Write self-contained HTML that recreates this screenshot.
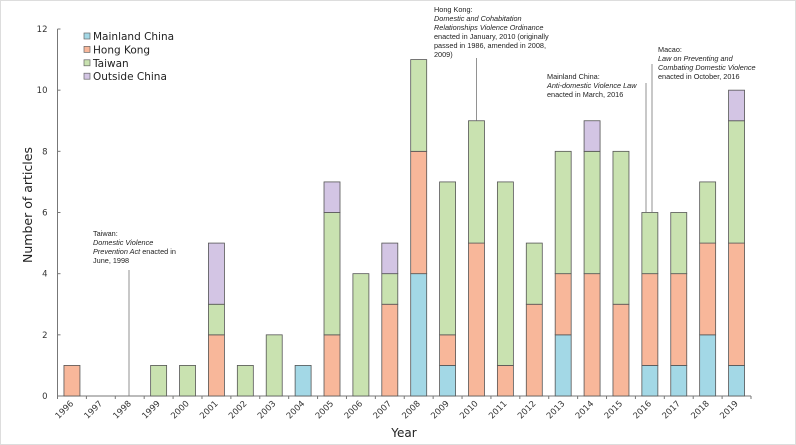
<!DOCTYPE html>
<html><head><meta charset="utf-8"><style>
body{margin:0;background:#fff}
svg{display:block;font-family:"DejaVu Sans","Liberation Sans",sans-serif}
</style></head><body>
<svg id="c" width="796" height="445">
<rect x="0.5" y="0.5" width="795" height="444" fill="#fff" stroke="#ddd"/>
</svg>
<script>
const years=["1996","1997","1998","1999","2000","2001","2002","2003","2004","2005","2006","2007","2008","2009","2010","2011","2012","2013","2014","2015","2016","2017","2018","2019"];
const mainland=[0,0,0,0,0,0,0,0,1,0,0,0,4,1,0,0,0,2,0,0,1,1,2,1];
const hongkong=[1,0,0,0,0,2,0,0,0,2,0,3,4,1,5,1,3,2,4,3,3,3,3,4];
const taiwan=[0,0,0,1,1,1,1,2,0,4,4,1,3,5,4,6,2,4,4,5,2,2,2,4];
const outside=[0,0,0,0,0,2,0,0,0,1,0,1,0,0,0,0,0,0,1,0,0,0,0,1];
const yTicks=[0,2,4,6,8,10,12];
const seriesNames=["Mainland China","Hong Kong","Taiwan","Outside China"];
const NS="http://www.w3.org/2000/svg";
const svg=document.getElementById('c');
const colors=["#a3d8e6","#f8b79a","#c9e2b0","#d3c5e4"];
const x0=57.5,xEnd=751,y0=396,yTop=29;
const yScale=v=>y0-(v/12)*(y0-yTop);
const band=(xEnd-x0)/years.length;
const xScale=i=>x0+(i+0.5)*band;
function mk(t,a,p){const e=document.createElementNS(NS,t);for(const k in a)e.setAttribute(k,a[k]);(p||svg).appendChild(e);return e;}
let ax=mk('line',{x1:x0,y1:yTop,x2:x0,y2:y0,stroke:'#777'});


ax=mk('line',{x1:x0,y1:y0,x2:xEnd,y2:y0,stroke:'#777'});


yTicks.forEach(v=>{
 const t=mk('line',{x1:x0,x2:x0+3,y1:yScale(v),y2:yScale(v),stroke:'#777'});
 
 
 const l=mk('text',{x:x0-10,y:yScale(v)+3,'text-anchor':'end','font-size':8.5,fill:'#333'});l.textContent=v;
 
 
});
for(let i=0;i<=years.length;i++){
 const tx=x0+i*band;
 const t=mk('line',{x1:tx,x2:tx,y1:y0,y2:y0+3,stroke:'#777'});
 
 
}
const series=[mainland,hongkong,taiwan,outside];
years.forEach((yr,i)=>{
 const cx=xScale(i);
 const lx=cx+2,ly=y0+8;
 const l=mk('text',{x:lx,y:ly,'text-anchor':'end','font-size':8.5,fill:'#333',transform:'rotate(-45 '+lx+' '+ly+')'});l.textContent=yr;
 
 
 let acc=0;
 series.forEach((s,k)=>{
  if(s[i]>0){
   const r=mk('rect',{x:cx-8,y:yScale(acc+s[i]),width:16,height:yScale(acc)-yScale(acc+s[i]),fill:colors[k],stroke:'#555','stroke-width':0.8});
   
   
   acc+=s[i];
  }
 });
});
let tt=mk('text',{x:404,y:437,'text-anchor':'middle','font-size':12,fill:'#222'});tt.textContent='Year';


tt=mk('text',{x:32,y:205,'text-anchor':'middle','font-size':12.5,fill:'#222',transform:'rotate(-90 32 205)'});tt.textContent='Number of articles';


seriesNames.forEach((n,k)=>{
 const y=36+k*13.4;
 const r=mk('rect',{x:84,y:y-3,width:6,height:6,fill:colors[k],stroke:'#666','stroke-width':0.7});
 
 
 const t=mk('text',{x:93,y:y+4,'font-size':10.5,fill:'#222'});t.textContent=n;
 
 
});
function note(lines,x,y,name){
 const g=mk('g',{});
 
 
 lines.forEach((ln,j)=>{
  const t=mk('text',{x:x,y:y+j*9,'font-size':7.3,fill:'#222','font-family':'Liberation Sans, sans-serif'},g);
  ln.forEach(seg=>{const s=mk('tspan',{'font-style':seg[1]?'italic':'normal'},t);s.textContent=seg[0];});
 });
}
note([[["Taiwan:",0]],[["Domestic Violence",1]],[["Prevention Act",1],[" enacted in",0]],[["June, 1998",0]]],93,236,'annotation-taiwan');
note([[["Hong Kong:",0]],[["Domestic and Cohabitation",1]],[["Relationships Violence Ordinance",1]],[["enacted in January, 2010 (originally",0]],[["passed in 1986, amended in 2008,",0]],[["2009)",0]]],434,12,'annotation-hongkong');
note([[["Mainland China:",0]],[["Anti-domestic Violence Law",1]],[["enacted in March, 2016",0]]],547,79,'annotation-mainland');
note([[["Macao:",0]],[["Law on Preventing and",1]],[["Combating Domestic Violence",1]],[["enacted in October, 2016",0]]],658,52,'annotation-macao');
[[129,270,396],[476.5,58,yScale(9)],[646,83,yScale(6)],[652,64,yScale(6)]].forEach(a=>{
 const l=mk('line',{x1:a[0],x2:a[0],y1:a[1],y2:a[2],stroke:'#777','stroke-width':0.8});
 
 
});
</script>
</body></html>
